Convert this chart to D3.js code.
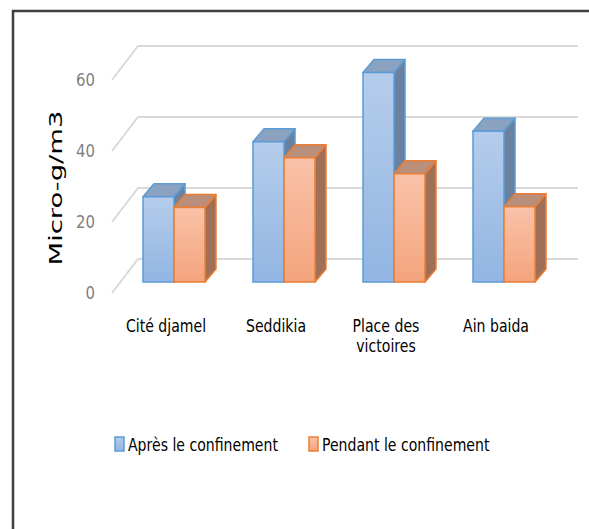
<!DOCTYPE html>
<html>
<head>
<meta charset="utf-8">
<title>Micro-g/m3</title>
<style>
  body { margin: 0; background: #fff; }
  svg { display: block; }
  .narrow { font-family: "Liberation Sans Narrow", "DejaVu Sans Condensed", "Arial Narrow", sans-serif; }
</style>
</head>
<body>
<div id="chart"></div>
<script src="https://cdn.jsdelivr.net/npm/d3@7"></script>
<script>
    // data
    var categories = ['Cité djamel', 'Seddikia', 'Place des victoires', 'Ain baida'];
    var seriesNames = ['Après le confinement', 'Pendant le confinement'];
    var apres = [24, 39.5, 59, 42.5];
    var pendant = [21, 35, 30.5, 21.2];
    var yTicks = [0, 20, 40, 60];

    var width = 589, height = 529;
    var depth = {dx: 11, dy: -13};      // bar depth
    var wall = {dx: 26, dy: -34};       // side wall diagonals
    var backShift = -23;                // back wall offset from bar plane
    var squeeze = 0.92;                 // horizontal text compression

    var colors = [
        {front0: '#b5cdeb', front1: '#92b5e2', stroke: '#5b9bd5', top: '#8aa2c0', side: '#6b819d'},
        {front0: '#f9c2a8', front1: '#f4a47d', stroke: '#ed7d31', top: '#b98e7b', side: '#9f6f58'}
    ];

    var svg = d3.select('#chart').append('svg')
            .attr('width', width)
            .attr('height', height);

    var defs = svg.append('defs');
    colors.forEach(function (c, i) {
        var g = defs.append('linearGradient')
                .attr('id', 'grad' + i)
                .attr('x1', 0).attr('y1', 0).attr('x2', 0).attr('y2', 1);
        g.append('stop').attr('offset', '0%').attr('stop-color', c.front0);
        g.append('stop').attr('offset', '100%').attr('stop-color', c.front1);
    });

    var y = d3.scaleLinear().domain([0, 60]).range([282, 69]);

    var x0 = d3.scaleBand().domain(categories).range([119, 559]).padding(0);
    var x1 = d3.scaleBand().domain(seriesNames)
            .range([(x0.bandwidth() - 62) / 2, (x0.bandwidth() + 62) / 2]);

    // gridlines: back wall + left side wall diagonals
    var grid = svg.append('g').attr('class', 'grid');
    var wallLeft = 112, backLeft = wallLeft + wall.dx, backRight = 578;
    yTicks.forEach(function (t) {
        var yb = y(t) + backShift;
        grid.append('path')
                .attr('d', 'M' + wallLeft + ',' + (yb - wall.dy) + 'L' + backLeft + ',' + yb + 'L' + backRight + ',' + yb)
                .attr('fill', 'none')
                .attr('stroke', '#d9d9d9')
                .attr('stroke-width', 2);
    });

    // tick labels
    svg.append('g').selectAll('text')
            .data(yTicks)
            .join('text')
            .attr('class', 'narrow')
            .attr('transform', function (d) {
                return 'translate(95,' + (y(d) + backShift - wall.dy) + ') scale(' + squeeze + ',1)';
            })
            .attr('dy', '0.35em')
            .attr('text-anchor', 'end')
            .attr('fill', '#7f7f7f')
            .attr('font-size', 18)
            .text(function (d) { return d; });

    // axis title
    svg.append('text')
            .attr('transform', 'translate(62,188) rotate(-90)')
            .attr('text-anchor', 'middle')
            .attr('font-family', '"DejaVu Sans", sans-serif')
            .attr('font-size', 17)
            .attr('textLength', 155)
            .attr('lengthAdjust', 'spacingAndGlyphs')
            .attr('fill', '#000')
            .text('Micro-g/m3');

    // bars
    var rows = categories.map(function (c, i) {
        return {cat: c, values: [apres[i], pendant[i]]};
    });

    var groups = svg.append('g').selectAll('g')
            .data(rows)
            .join('g')
            .attr('transform', function (d) { return 'translate(' + x0(d.cat) + ',0)'; });

    groups.each(function (row) {
        var g = d3.select(this);
        row.values.forEach(function (v, si) {
            var c = colors[si];
            var bx = x1(seriesNames[si]), bw = x1.bandwidth();
            var top = y(v), bottom = y(0);
            var dx = depth.dx, dy = depth.dy;
            // side
            g.append('path')
                    .attr('d', 'M' + (bx + bw) + ',' + top + 'L' + (bx + bw + dx) + ',' + (top + dy) +
                            'L' + (bx + bw + dx) + ',' + (bottom + dy) + 'L' + (bx + bw) + ',' + bottom + 'Z')
                    .attr('fill', c.side)
                    .attr('stroke', c.stroke)
                    .attr('stroke-width', 1.5)
                    .attr('stroke-linejoin', 'round');
            // top
            g.append('path')
                    .attr('d', 'M' + bx + ',' + top + 'L' + (bx + dx) + ',' + (top + dy) +
                            'L' + (bx + bw + dx) + ',' + (top + dy) + 'L' + (bx + bw) + ',' + top + 'Z')
                    .attr('fill', c.top)
                    .attr('stroke', c.stroke)
                    .attr('stroke-width', 1.5)
                    .attr('stroke-linejoin', 'round');
            // front
            g.append('rect')
                    .attr('x', bx)
                    .attr('y', top)
                    .attr('width', bw)
                    .attr('height', bottom - top)
                    .attr('fill', 'url(#grad' + si + ')')
                    .attr('stroke', c.stroke)
                    .attr('stroke-width', 1.5);
        });
    });

    // category labels
    var catLabels = svg.append('g').selectAll('text')
            .data(categories)
            .join('text')
            .attr('class', 'narrow')
            .attr('transform', function (d) {
                return 'translate(' + (x0(d) + x0.bandwidth() / 2 - 8) + ',332) scale(' + squeeze + ',1)';
            })
            .attr('text-anchor', 'middle')
            .attr('font-size', 17)
            .attr('fill', '#000');
    catLabels.each(function (d) {
        var words = d === 'Place des victoires' ? ['Place des', 'victoires'] : [d];
        var t = d3.select(this);
        words.forEach(function (w, i) {
            t.append('tspan')
                    .attr('x', 0)
                    .attr('dy', i === 0 ? 0 : 20)
                    .text(w);
        });
    });

    // legend
    var legendX = [115, 309];
    var legend = svg.append('g').selectAll('g')
            .data(seriesNames)
            .join('g')
            .attr('transform', function (d, i) { return 'translate(' + legendX[i] + ',437)'; });
    legend.append('rect')
            .attr('width', 9)
            .attr('height', 14)
            .attr('fill', function (d, i) { return 'url(#grad' + i + ')'; })
            .attr('stroke', function (d, i) { return colors[i].stroke; })
            .attr('stroke-width', 1.5);
    legend.append('text')
            .attr('class', 'narrow')
            .attr('transform', 'translate(13,14) scale(' + squeeze + ',1)')
            .attr('font-size', 17)
            .attr('fill', '#000')
            .text(function (d) { return d; });

    // frame
    svg.append('path')
            .attr('d', 'M13,' + height + 'L13,11L' + width + ',11')
            .attr('fill', 'none')
            .attr('stroke', '#404040')
            .attr('stroke-width', 2.5);
</script>
</body>
</html>
